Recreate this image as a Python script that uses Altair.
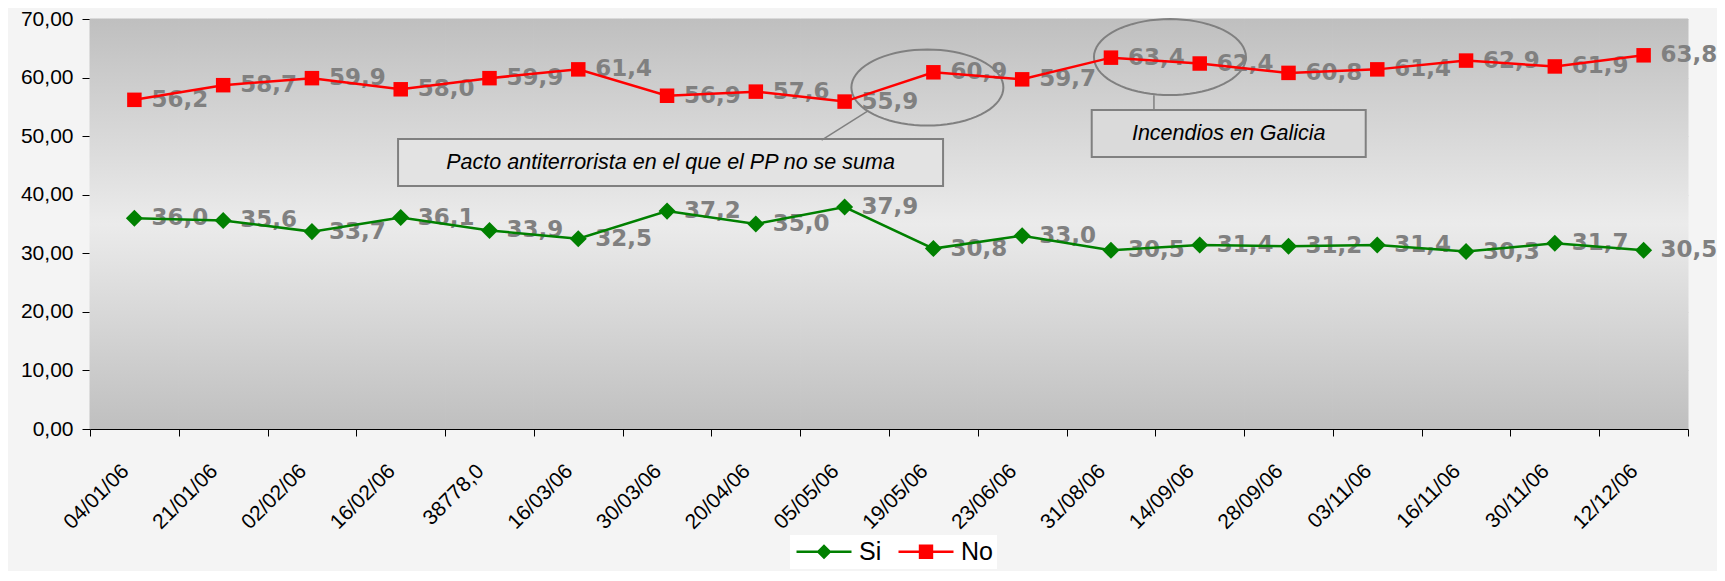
import math
import altair as alt
import pandas as pd

# ---------------- data ----------------
dates = ["04/01/06", "21/01/06", "02/02/06", "16/02/06", "38778,0", "16/03/06",
         "30/03/06", "20/04/06", "05/05/06", "19/05/06", "23/06/06", "31/08/06",
         "14/09/06", "28/09/06", "03/11/06", "16/11/06", "30/11/06", "12/12/06"]
si_values = [36.0, 35.6, 33.7, 36.1, 33.9, 32.5, 37.2, 35.0, 37.9,
             30.8, 33.0, 30.5, 31.4, 31.2, 31.4, 30.3, 31.7, 30.5]
no_values = [56.2, 58.7, 59.9, 58.0, 59.9, 61.4, 56.9, 57.6, 55.9,
             60.9, 59.7, 63.4, 62.4, 60.8, 61.4, 62.9, 61.9, 63.8]
series = ["Si", "No"]
y_ticks = [0, 10, 20, 30, 40, 50, 60, 70]
y_domain = [0, 70]

# annotations (anchored in data space)
ann_texts = ["Pacto antiterrorista en el que el PP no se suma", "Incendios en Galicia"]
ann_text_dates = ["30/03/06", "14/09/06"]
ann_text_values = [45.5, 50.45]
ell_dates = ["19/05/06", "31/08/06"]
ell_values = [58.3, 63.5]
link_dates = ["05/05/06", "31/08/06"]
link_values = [51.8, 55.7]

rows = []
for s, vals in zip(series, [si_values, no_values]):
    for d, v in zip(dates, vals):
        rows.append({"date": d, "serie": s, "value": v,
                     "label": f"{v:.1f}".replace(".", ",")})
df = pd.DataFrame(rows)
bg_df = pd.DataFrame({"date": dates, "value": [y_domain[1]] * len(dates),
                      "bottom": [y_domain[0]] * len(dates)})

FONT = "Liberation Sans"
GREEN, RED = "#008000", "#ff0000"
COLORS = [GREEN, RED]

xscale = alt.Scale(type="band", domain=dates, paddingInner=0, paddingOuter=0)
yscale = alt.Scale(domain=y_domain, nice=False)

x_axis = alt.Axis(title=None, tickBand="extent", labelAngle=-45, labelAlign="right",
                  labelBaseline="top", labelFont=FONT, labelFontSize=21,
                  labelColor="#000000", labelPadding=24, labelOffset=-17,
                  tickSize=7, tickColor="#000000", domainColor="#000000",
                  grid=False, labelOverlap=False)
y_axis = alt.Axis(title=None, values=y_ticks,
                  labelExpr="replace(format(datum.value, '.2f'), '.', ',')",
                  labelFont=FONT, labelFontSize=21, labelColor="#000000",
                  labelPadding=9, tickSize=8, tickColor="#000000",
                  domainColor="#000000", grid=True, gridColor="#d4d4d4",
                  gridWidth=1)

X = alt.X("date:N", sort=None, scale=xscale, axis=x_axis)
Y = alt.Y("value:Q", scale=yscale, axis=y_axis)

base = alt.Chart(df)

# ---------------- plot-area gradient ----------------
grad = alt.LinearGradient(
    gradient="linear", x1=0, x2=0, y1=0, y2=1,
    stops=[alt.GradientStop(offset=0, color="#bfbfbf"),
           alt.GradientStop(offset=0.5, color="#ebebeb"),
           alt.GradientStop(offset=1, color="#bfbfbf")])
bg = alt.Chart(bg_df).mark_rect(fill=grad, stroke=grad, strokeWidth=1, opacity=1).encode(
    x=X, y=Y, y2="bottom:Q")

# ---------------- annotation shapes ----------------
def ellipse_path(n=72):
    pts = []
    for i in range(n):
        a = 2 * math.pi * i / n
        pts.append(f"{math.cos(a):.4f},{0.5 * math.sin(a):.4f}")
    return "M" + "L".join(pts) + "Z"

ELL = ellipse_path()

def box_path(half_h_units):
    return f"M-1,-{half_h_units:.4f}H1V{half_h_units:.4f}H-1Z"

ann_df = pd.DataFrame({"date": ann_text_dates, "value": ann_text_values, "text": ann_texts})
ell_df = pd.DataFrame({"date": ell_dates, "value": ell_values})
link_df = pd.DataFrame({"date": link_dates, "value": link_values})

box_specs = [(0, 545, 47, 3.5, "#e3e3e3"), (1, 274, 47, 29, "#dadada")]
ann_layers = []
for idx, w, h, off, fillc in box_specs:
    k = w / 2
    ann_layers.append(
        alt.Chart(ann_df.iloc[[idx]]).mark_point(
            shape=box_path((h / 2) / k), size=w * w, filled=False, fill=fillc,
            stroke="#808080", strokeWidth=2, opacity=1, xOffset=off
        ).encode(x=X, y=Y)
    )
    ann_layers.append(
        alt.Chart(ann_df.iloc[[idx]]).mark_text(
            font=FONT, fontSize=21.5, fontStyle="italic", color="#000000",
            align="center", baseline="middle", dx=off
        ).encode(x=X, y=Y, text="text:N")
    )

for idx, off in [(0, -6), (1, 59)]:
    ann_layers.append(
        alt.Chart(ell_df.iloc[[idx]]).mark_point(
            shape=ELL, size=152 * 152, filled=False, stroke="#808080",
            strokeWidth=2, opacity=1, xOffset=off
        ).encode(x=X, y=Y)
    )

link_specs = [(0, "M-1,0.63L1,-0.63", 46 * 46, 0), (1, "M0,-1L0,1", 15 * 15, 43)]
for idx, path, size, off in link_specs:
    ann_layers.append(
        alt.Chart(link_df.iloc[[idx]]).mark_point(
            shape=path, size=size, filled=False, stroke="#808080",
            strokeWidth=1.5, opacity=1, xOffset=off
        ).encode(x=X, y=Y)
    )

# ---------------- data layers ----------------
labels = base.mark_text(align="left", baseline="middle", dx=17, font="DejaVu Sans",
                        fontWeight="bold", fontSize=23, color="#808080").encode(
    x=X, y=Y, text="label:N")

si_base = base.transform_filter(alt.datum.serie == "Si")
no_base = base.transform_filter(alt.datum.serie == "No")

line_si = si_base.mark_line(strokeWidth=2.5, color=GREEN).encode(x=X, y=Y)
line_no = no_base.mark_line(strokeWidth=2.5, color=RED).encode(x=X, y=Y)
pts_si = si_base.mark_point(shape="diamond", filled=True, size=290, opacity=1,
                            color=GREEN).encode(x=X, y=Y)
pts_no = no_base.mark_point(shape="square", filled=True, size=210, opacity=1,
                            color=RED).encode(x=X, y=Y)

# legend-only layer (invisible marks; legend symbols = line + marker)
SI_SYM = "M-1,-0.125H4.5V0.125H-1ZM1.75,-0.75L2.5,0L1.75,0.75L1,0Z"
NO_SYM = "M-1,-0.125H4.5V0.125H-1ZM1.03,-0.72H2.47V0.72H1.03Z"
leg = alt.Legend(title=None, orient="none", legendX=700, legendY=516,
                 direction="horizontal", labelFont=FONT, labelFontSize=25,
                 labelColor="#000000", symbolSize=400, symbolStrokeWidth=0,
                 symbolOpacity=1, labelOffset=40, columnPadding=14,
                 fillColor="#ffffff", padding=4)
legend_layer = base.mark_point(filled=True, opacity=0).encode(
    x=X, y=Y,
    color=alt.Color("serie:N", scale=alt.Scale(domain=series, range=COLORS), legend=leg),
    shape=alt.Shape("serie:N", scale=alt.Scale(domain=series, range=[SI_SYM, NO_SYM]), legend=leg),
)

chart = alt.layer(
    bg, *ann_layers, labels, line_si, line_no, pts_si, pts_no, legend_layer
).properties(
    width=1598, height=410,
    padding={"left": 82, "top": 11, "right": 29, "bottom": 142},
    autosize=alt.AutoSizeParams(type="none"),
    background="#f4f4f4",
).configure_view(stroke=None)

chart.save("out.html", embed_options={"renderer": "svg", "actions": False})
